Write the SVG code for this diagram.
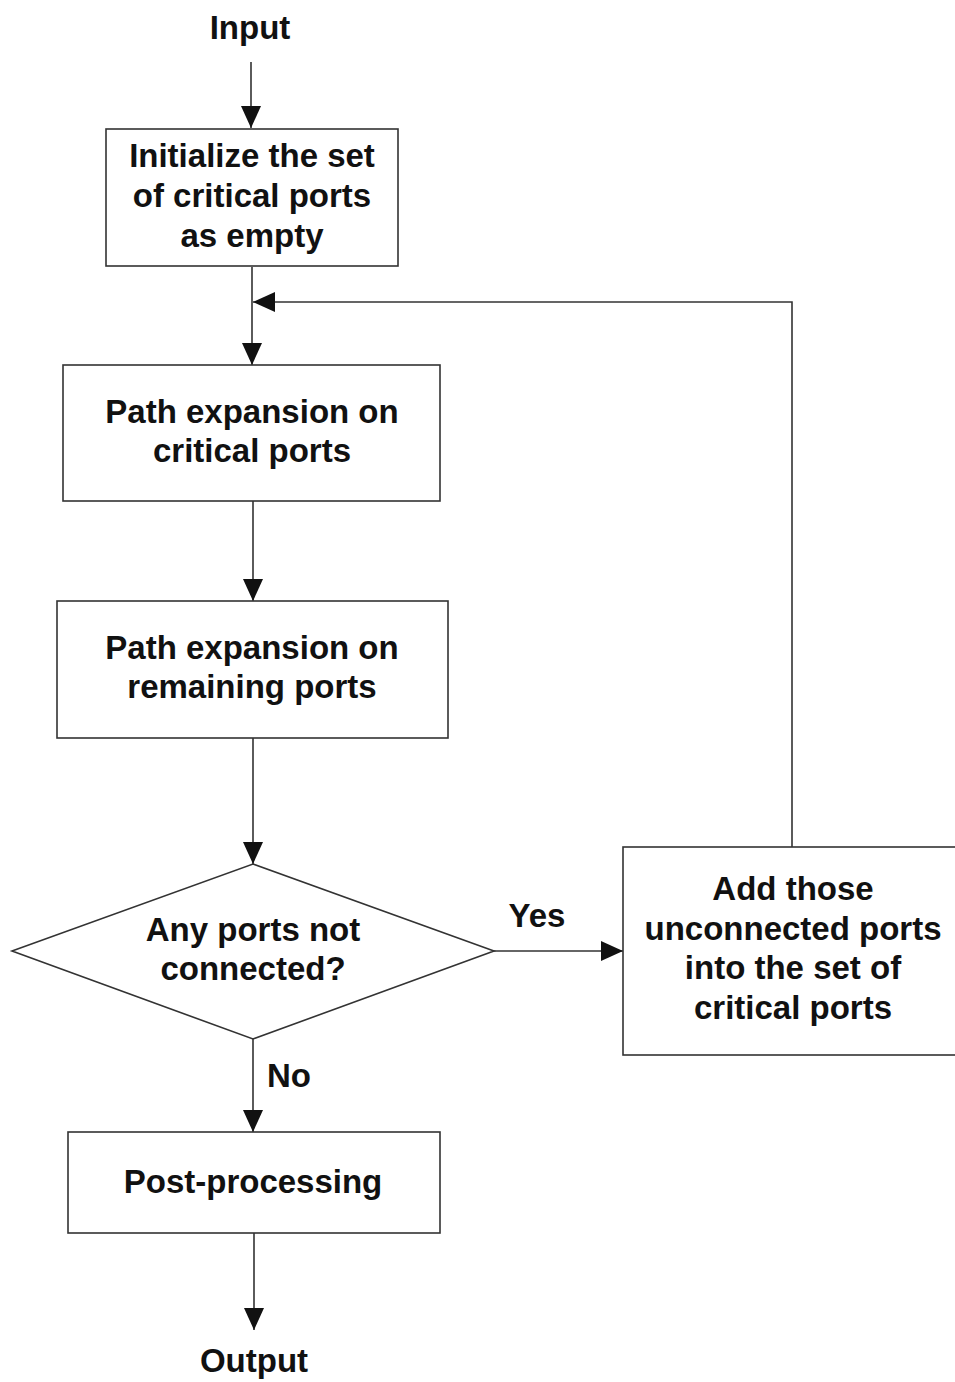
<svg xmlns="http://www.w3.org/2000/svg" width="955" height="1382" viewBox="0 0 955 1382">
<style>
.box{fill:#fff;stroke:#333;stroke-width:1.6}
.t{font-family:"Liberation Sans",Arial,sans-serif;font-weight:bold;font-size:33px;fill:#111;text-anchor:middle}
.c{fill:none;stroke:#333;stroke-width:1.6}
</style>
<defs>
<marker id="ah" viewBox="0 0 22 20" refX="22" refY="10" markerWidth="22" markerHeight="20" markerUnits="userSpaceOnUse" orient="auto">
<path d="M0,0 L22,10 L0,20 Z" fill="#111"/>
</marker>
</defs>
<rect width="955" height="1382" fill="#fff"/>
<g id="connectors">
<line class="c" x1="251" y1="62" x2="251" y2="128" marker-end="url(#ah)"/>
<line class="c" x1="252" y1="267" x2="252" y2="365" marker-end="url(#ah)"/>
<polyline class="c" points="792,847 792,302 253,302" marker-end="url(#ah)"/>
<line class="c" x1="253" y1="501" x2="253" y2="601" marker-end="url(#ah)"/>
<line class="c" x1="253" y1="738" x2="253" y2="864" marker-end="url(#ah)"/>
<line class="c" x1="494" y1="951" x2="623" y2="951" marker-end="url(#ah)"/>
<line class="c" x1="253" y1="1039" x2="253" y2="1132" marker-end="url(#ah)"/>
<line class="c" x1="254" y1="1233" x2="254" y2="1330" marker-end="url(#ah)"/>
<text class="t" x="537" y="927">Yes</text>
<text class="t" x="289" y="1087">No</text>
</g>
<g id="input"><text class="t" x="250" y="39">Input</text></g>
<g id="init">
<rect class="box" x="106" y="129" width="292" height="137"/>
<text class="t" x="252" y="167">Initialize the set</text>
<text class="t" x="252" y="207">of critical ports</text>
<text class="t" x="252" y="247">as empty</text>
</g>
<g id="expand-critical">
<rect class="box" x="63" y="365" width="377" height="136"/>
<text class="t" x="252" y="423">Path expansion on</text>
<text class="t" x="252" y="462">critical ports</text>
</g>
<g id="expand-remaining">
<rect class="box" x="57" y="601" width="391" height="137"/>
<text class="t" x="252" y="659">Path expansion on</text>
<text class="t" x="252" y="698">remaining ports</text>
</g>
<g id="decision">
<polygon class="box" points="253,864 494,951 253,1039 12,951"/>
<text class="t" x="253" y="941">Any ports not</text>
<text class="t" x="253" y="980">connected?</text>
</g>
<g id="add">
<rect class="box" x="623" y="847" width="340" height="208"/>
<text class="t" x="793" y="900">Add those</text>
<text class="t" x="793" y="940">unconnected ports</text>
<text class="t" x="793" y="979">into the set of</text>
<text class="t" x="793" y="1019">critical ports</text>
</g>
<g id="post">
<rect class="box" x="68" y="1132" width="372" height="101"/>
<text class="t" x="253" y="1193">Post-processing</text>
</g>
<g id="output"><text class="t" x="254" y="1372">Output</text></g>
</svg>
